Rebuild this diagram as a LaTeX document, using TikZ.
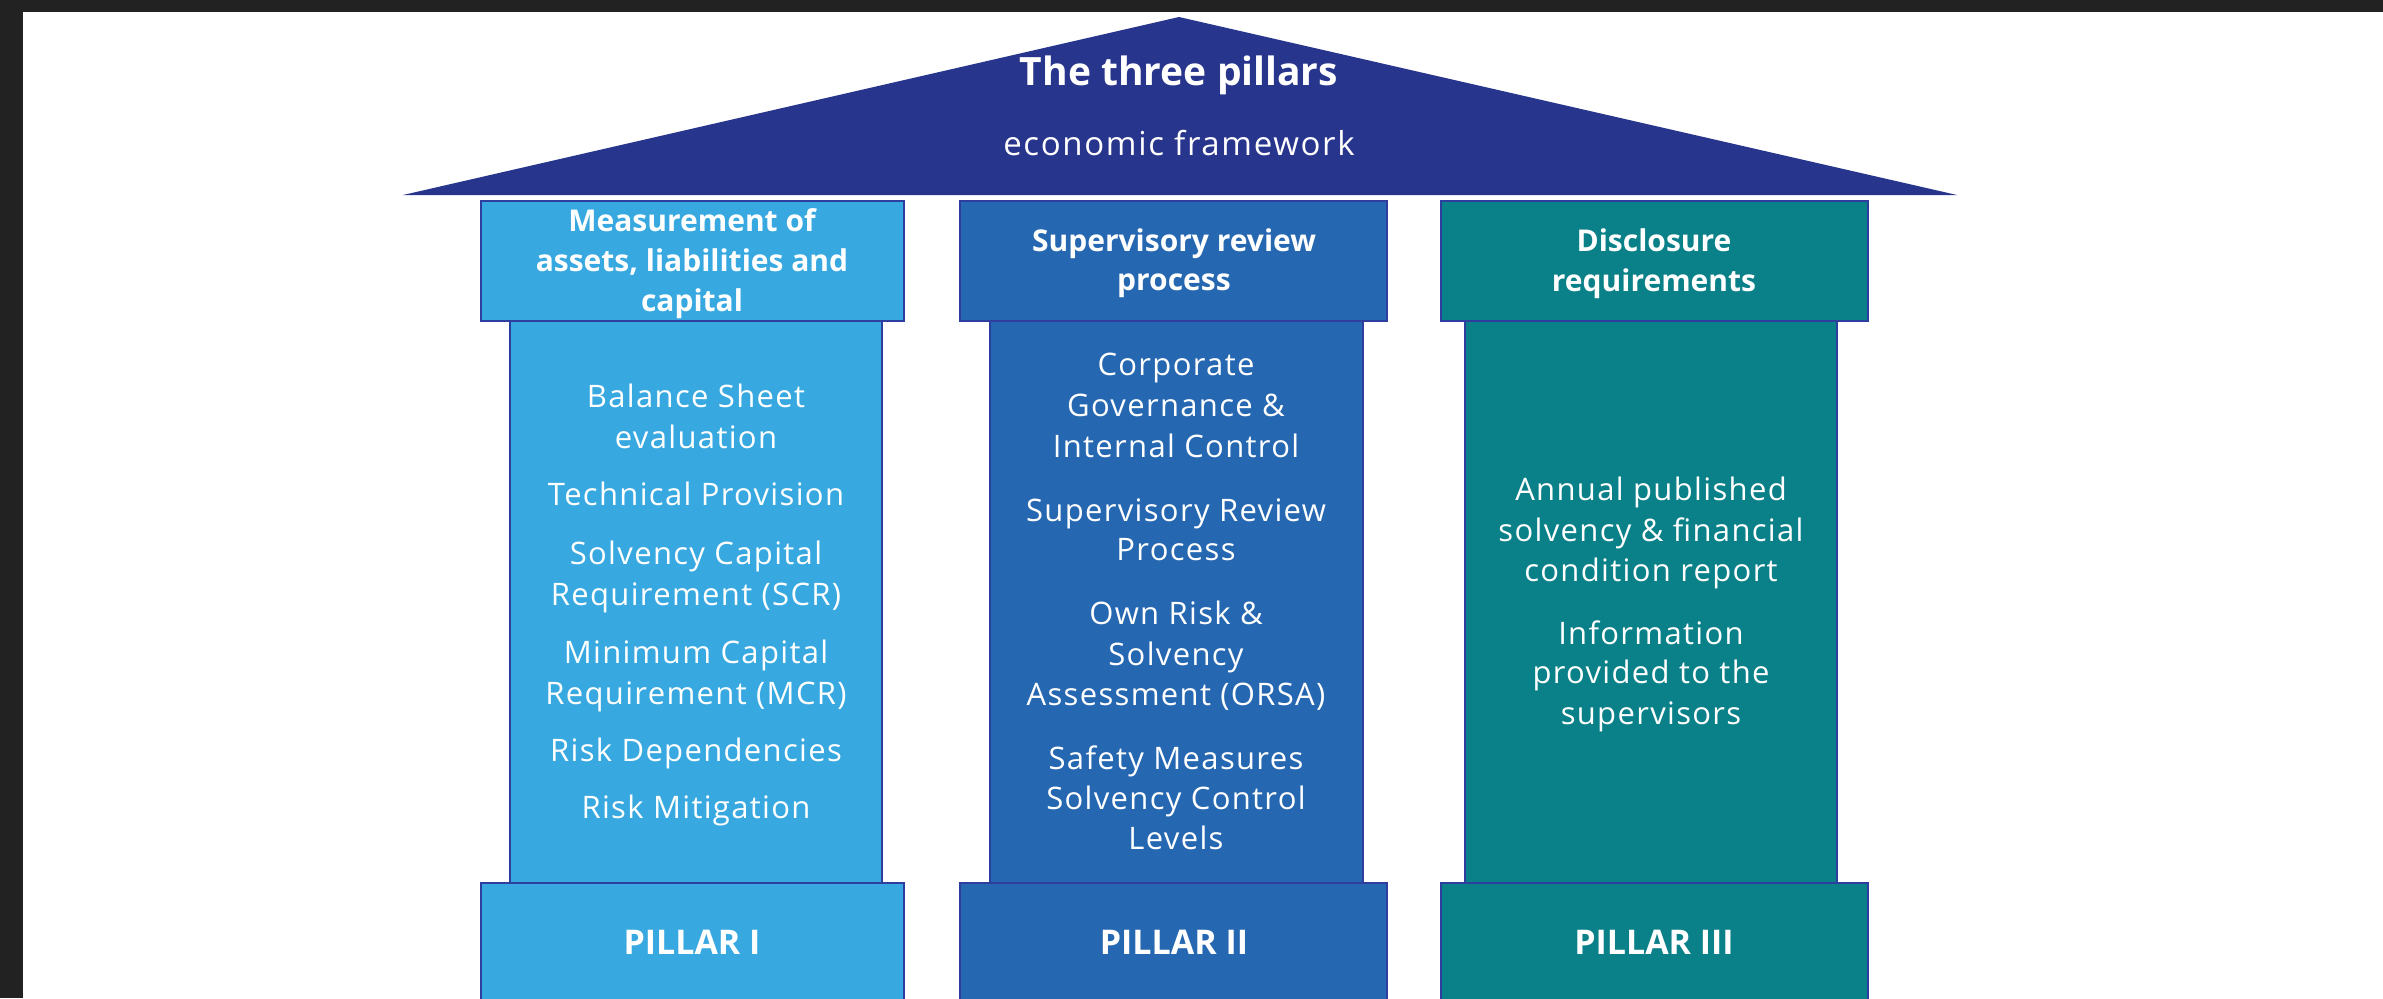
\documentclass[tikz,border=0pt]{standalone}
\usepackage{fontspec}
\setmainfont{Open Sans}
\newfontfamily\trackfnt[LetterSpace=4.3]{Open Sans}
\newfontfamily\econfnt[LetterSpace=5]{Open Sans}
\definecolor{frameclr}{RGB}{34,34,34}
\definecolor{roofclr}{RGB}{40,53,140}
\definecolor{pone}{RGB}{56,168,224}
\definecolor{ptwo}{RGB}{37,103,176}
\definecolor{pthree}{RGB}{10,128,136}
\definecolor{edgeclr}{RGB}{46,62,158}
\newcommand{\bodyfnt}{\trackfnt\fontsize{15.5}{20}\selectfont}
\newcommand{\headfnt}{\fontsize{15}{20}\selectfont\bfseries}
\begin{document}
\begin{tikzpicture}[x=0.5pt,y=-0.5pt,
  txt/.style={font=\bodyfnt, text=white, anchor=base, inner sep=0pt},
  hd/.style={font=\headfnt, text=white, anchor=base, inner sep=0pt},
  ttl/.style={font=\fontsize{19.5}{24}\selectfont\bfseries, text=white, anchor=base, inner sep=0pt},
  pil/.style={font=\fontsize{17}{20}\selectfont\bfseries, text=white, anchor=base, inner sep=0pt},
  box/.style={draw=edgeclr, line width=0.6pt}]
\useasboundingbox (0,0) rectangle (2383,998);
\fill[white] (0,0) rectangle (2383,998);
\fill[frameclr] (0,0) rectangle (2383,12);
\fill[frameclr] (0,0) rectangle (23,998);
% roof
\fill[roofclr] (403,195) -- (1179,17) -- (1957,195) -- cycle;
\node[ttl] (title) at (1179,85) {The three pillars};
\node[font=\econfnt\fontsize{16.5}{20}\selectfont, text=white, anchor=base, inner sep=0pt] (econ) at (1179,155) {economic framework};
% pillar I
\draw[box, fill=pone] (510,321) rectangle (882,883);
\draw[box, fill=pone] (481,201) rectangle (904,321);
\draw[box, fill=pone] (481,883) rectangle (904,1005);
% pillar II
\draw[box, fill=ptwo] (990,321) rectangle (1363,883);
\draw[box, fill=ptwo] (960,201) rectangle (1387,321);
\draw[box, fill=ptwo] (960,883) rectangle (1387,1005);
% pillar III
\draw[box, fill=pthree] (1465,321) rectangle (1837,883);
\draw[box, fill=pthree] (1441,201) rectangle (1868,321);
\draw[box, fill=pthree] (1441,883) rectangle (1868,1005);
% headers
\node[hd] (h1a) at (692,231) {Measurement of};
\node[hd] (h1b) at (692,271) {assets, liabilities and};
\node[hd] (h1c) at (692,311) {capital};
\node[hd] (h2a) at (1174,251) {Supervisory review};
\node[hd] (h2b) at (1174,290) {process};
\node[hd] (h3a) at (1654,251) {Disclosure};
\node[hd] (h3b) at (1654,291) {requirements};
% column I
\node[txt] (a1) at (696,407) {Balance Sheet};
\node[txt] (a2) at (696,448) {evaluation};
\node[txt] (a3) at (696,505) {Technical Provision};
\node[txt] (a4) at (696,564) {Solvency Capital};
\node[txt] (a5) at (696,605) {Requirement (SCR)};
\node[txt] (a6) at (696,663) {Minimum Capital};
\node[txt] (a7) at (696,704) {Requirement (MCR)};
\node[txt] (a8) at (696,761) {Risk Dependencies};
\node[txt] (a9) at (696,818) {Risk Mitigation};
% column II
\node[txt] (b1) at (1176,375) {Corporate};
\node[txt] (b2) at (1176,416) {Governance \&};
\node[txt] (b3) at (1176,457) {Internal Control};
\node[txt] (b4) at (1176,521) {Supervisory Review};
\node[txt] (b5) at (1176,560) {Process};
\node[txt] (b6) at (1176,624) {Own Risk \&};
\node[txt] (b7) at (1176,665) {Solvency};
\node[txt] (b8) at (1176,705) {Assessment (ORSA)};
\node[txt] (b9) at (1176,769) {Safety Measures};
\node[txt] (b10) at (1176,809) {Solvency Control};
\node[txt] (b11) at (1176,849) {Levels};
% column III
\node[txt] (c1) at (1651,500) {Annual published};
\node[txt] (c2) at (1651,541) {solvency \& financial};
\node[txt] (c3) at (1651,581) {condition report};
\node[txt] (c4) at (1651,644) {Information};
\node[txt] (c5) at (1651,683) {provided to the};
\node[txt] (c6) at (1651,724) {supervisors};
% bases
\node[pil] (p1) at (692,954) {PILLAR I};
\node[pil] (p2) at (1174,954) {PILLAR II};
\node[pil] (p3) at (1654,954) {PILLAR III};
\end{tikzpicture}
\end{document}
